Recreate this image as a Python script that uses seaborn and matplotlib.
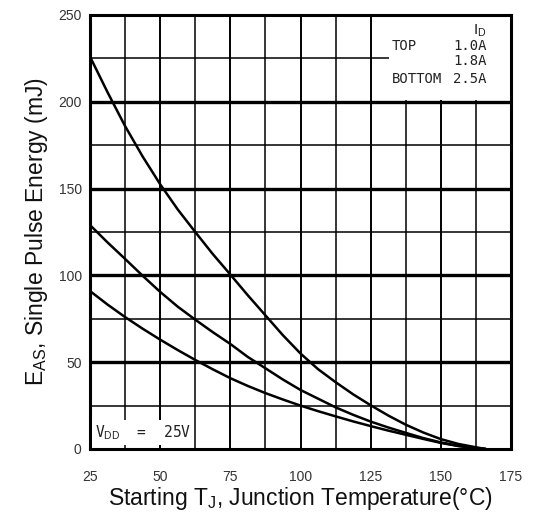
import numpy as np
import pandas as pd
import matplotlib
matplotlib.use("Agg")
import matplotlib.pyplot as plt
import seaborn as sns
from matplotlib.patches import Rectangle

# ================== 数据 ==================
temps = [25, 31.25, 37.5, 43.75, 50, 56.25, 62.5, 68.75, 75, 81.25, 87.5, 93.75,
         100, 106.25, 112.5, 118.75, 125, 131.25, 137.5, 143.75, 150, 156.25, 162.5, 166]
# ID = 1.0A
e_top = [226, 205.5, 186, 168.5, 152.5, 138, 125, 112.3, 100.5, 88.5, 77, 65.5,
         55, 46, 38.5, 31.5, 25.2, 19.3, 14, 9.5, 5.7, 2.9, 1, 0]
# ID = 1.8A
e_mid = [129, 119, 109.5, 99.8, 90.5, 82, 74.5, 67.3, 60.5, 53, 46.5, 40,
         34, 29, 24, 19.7, 15.8, 12.4, 9.3, 6.3, 3.8, 1.8, 0.5, 0]
# ID = 2.5A
e_bot = [91, 83.2, 76, 69.3, 63, 57, 51.3, 45.9, 40.8, 36.3, 32.2, 28.5,
         25, 21.8, 18.8, 15.9, 13.2, 10.6, 8.2, 5.8, 3.5, 1.7, 0.5, 0]
currents = ['1.0A', '1.8A', '2.5A']

x_ticks = [25, 50, 75, 100, 125, 150, 175]
y_ticks = [0, 50, 100, 150, 200, 250]

df = pd.DataFrame({
    'T': temps * 3,
    'E': e_top + e_mid + e_bot,
    'ID': sum([[c] * len(temps) for c in currents], []),
})

# ================== 绘图 ==================
sns.set_theme(style="white")
plt.rcParams['font.family'] = ['Liberation Sans', 'DejaVu Sans']
plt.rcParams['mathtext.fontset'] = 'custom'
plt.rcParams['mathtext.rm'] = 'Liberation Sans'

fig = plt.figure(figsize=(5.44, 5.2), dpi=100)
ax = fig.add_axes([90 / 544, 1 - 449 / 520, 421 / 544, 434 / 520])

# 网格
for x in np.arange(37.5, 175, 12.5):
    ax.axvline(x, color='black', lw=1.4 if x % 25 == 0 else 1.1, zorder=1)
for y in np.arange(25, 250, 25):
    ax.axhline(y, color='black', lw=2.4 if y % 50 == 0 else 1.1, zorder=1)

# 右上角遮挡框
ax.add_patch(Rectangle((131.5, 201), 44, 50, facecolor='white', edgecolor='none', zorder=2))

sns.lineplot(data=df, x='T', y='E', units='ID', estimator=None, color='black',
             lw=1.8, ax=ax, zorder=3, legend=False)

ax.set_xlim(25, 175)
ax.set_ylim(0, 250)
ax.set_xticks(x_ticks)
ax.set_yticks(y_ticks)
ax.tick_params(axis='x', length=0, pad=15, labelsize=10, labelcolor='#333333')
ax.tick_params(axis='y', length=0, pad=6, labelsize=10, labelcolor='#333333')
for s in ax.spines.values():
    s.set_color('black')
    s.set_linewidth(2.2)
    s.set_zorder(4)

ax.set_xlabel(r"Starting T$_\mathrm{J}$, Junction Temperature(°C)", fontsize=16.5, labelpad=1, color='#111111')
ax.set_ylabel(r"E$_\mathrm{AS}$, Single Pulse Energy (mJ)", fontsize=16.5, labelpad=6, color='#111111')

mono = ['DejaVu Sans Mono']
ax.text(166.4, 240.8, r"I$_\mathrm{D}$", fontsize=11, ha='right', va='center', color='#222222', zorder=5)
ax.text(132.6, 232, "TOP", family=mono, fontsize=10, ha='left', va='center', color='#222222', zorder=5)
ax.text(166.4, 232, "1.0A", family=mono, fontsize=10, ha='right', va='center', color='#222222', zorder=5)
ax.text(166.4, 223.5, "1.8A", family=mono, fontsize=10, ha='right', va='center', color='#222222', zorder=5)
ax.text(132.6, 213.3, "BOTTOM", family=mono, fontsize=10, ha='left', va='center', color='#222222', zorder=5)
ax.text(166.4, 213.3, "2.5A", family=mono, fontsize=10, ha='right', va='center', color='#222222', zorder=5)

ax.text(26.8, 9.5, r"V$_\mathrm{DD}$  =  25V", family=mono, fontsize=10.5, ha='left', va='center', color='#222222',
        zorder=5, bbox=dict(facecolor='white', edgecolor='none', pad=2))

fig.savefig('out.png', dpi=100)
